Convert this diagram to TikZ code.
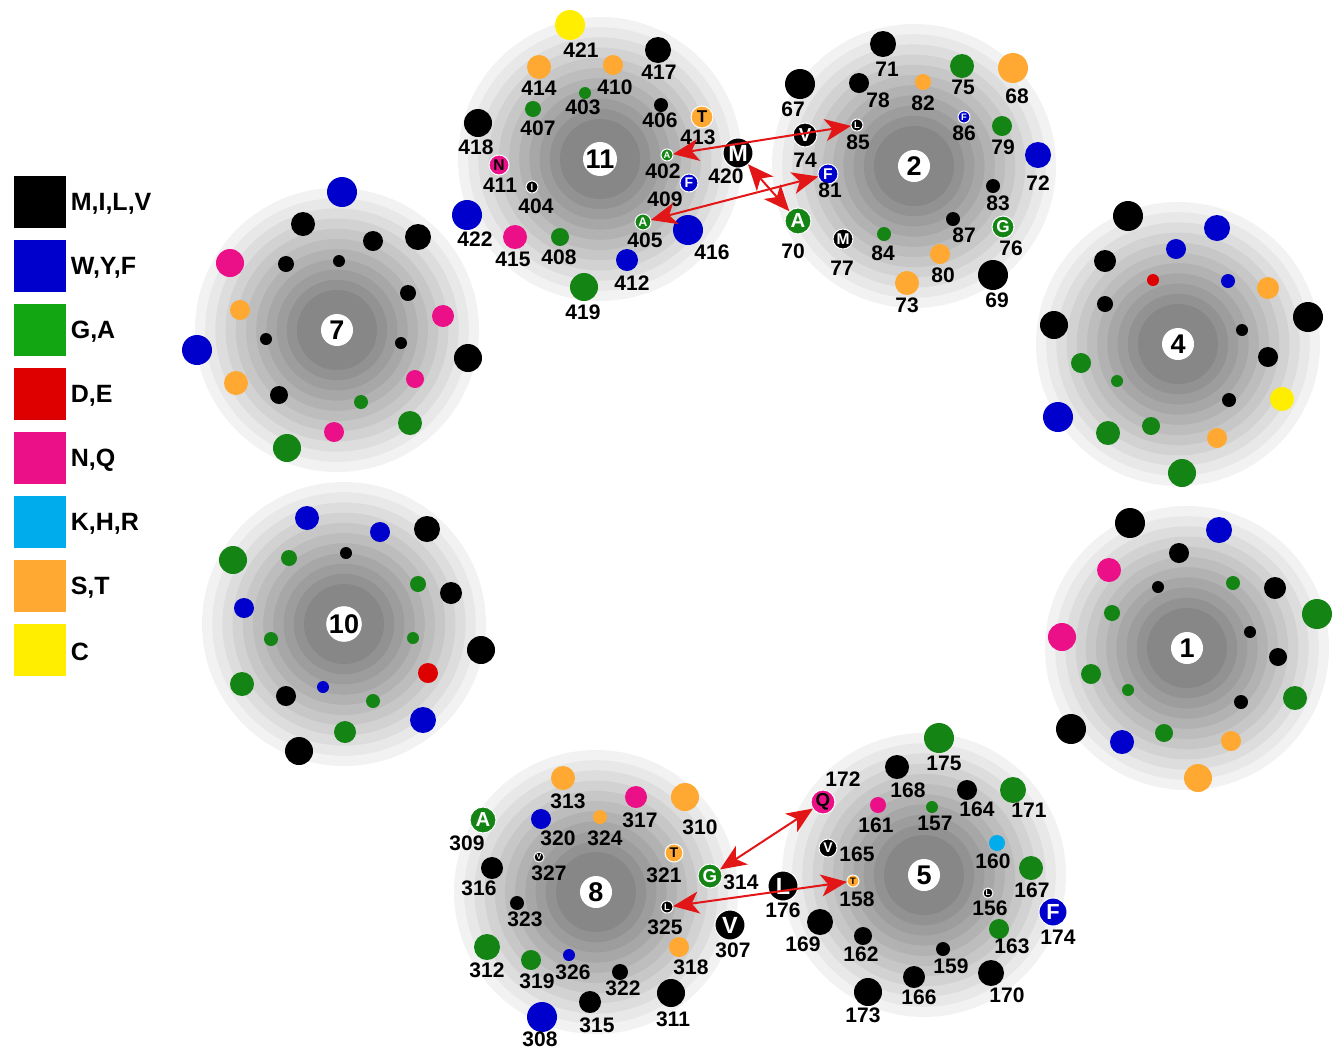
\documentclass[tikz,border=0pt]{standalone}
\usepackage{fontspec}
\setmainfont{Liberation Sans}
\usetikzlibrary{arrows.meta}

\definecolor{hyd}{RGB}{0,0,0}
\definecolor{aro}{RGB}{0,0,204}
\definecolor{gly}{RGB}{20,132,20}
\definecolor{glykey}{RGB}{18,166,18}
\definecolor{acid}{RGB}{222,0,0}
\definecolor{amide}{RGB}{236,16,136}
\definecolor{base}{RGB}{0,172,236}
\definecolor{hyx}{RGB}{255,168,50}
\definecolor{cys}{RGB}{255,238,0}
\definecolor{contactred}{RGB}{226,22,22}

\tikzset{
  dot/.style={circle, inner sep=0pt, outer sep=0pt},
  resnum/.style={font=\bfseries\fontsize{10.5}{10.5}\selectfont, inner sep=0pt},
  hub/.style={circle, fill=white, minimum size=16pt, inner sep=0pt,
    font=\bfseries\fontsize{13.5}{13.5}\selectfont},
  contact/.style={draw=contactred, line width=1pt,
    {Stealth[length=13pt,width=11pt,inset=3.5pt]}-{Stealth[length=13pt,width=11pt,inset=3.5pt]}},
  key/.style={minimum size=26pt, inner sep=0pt},
  keytext/.style={anchor=west, font=\bfseries\fontsize{12.5}{12.5}\selectfont, inner sep=0pt}
}

\begin{document}
\begin{tikzpicture}[x=0.5pt, y=-0.5pt]
  \useasboundingbox (0,0) rectangle (1334,1051);

  % shaded discs of the eight wheels
  \foreach \cx/\cy in {600/159, 914/166, 337/330, 1178/344, 344/624, 1187/648, 596/892, 924/875} {
    \foreach \k in {0,...,10} {
      \pgfmathsetmacro\shade{5+4.2*\k}
      \fill[black!\shade] (\cx,\cy) circle[radius={142-10.2*\k}];
    }
  }

  % wheels 11, 2, 8, 5: plain residues with numbers
  \foreach \x/\y/\r/\c/\n/\lx/\ly in {
      570/25/15/cys/421/581/50, 658/50/13/hyd/417/659/72, 539/67/12/hyx/414/539/88,
      613/65/10/hyx/410/615/87, 585/93/6/gly/403/583/107, 533/109/8/gly/407/538/128,
      661/105/7/hyd/406/660/120, 478/123/14/hyd/418/476/147, 688/230/15/aro/416/712/252,
      467/215/15/aro/422/475/239, 515/237/12/amide/415/513/259, 560/237/9/gly/408/559/257,
      627/260/11/aro/412/632/283, 584/287/14/gly/419/583/312,
      883/44/13/hyd/71/887/69, 800/84/15/hyd/67/793/109, 859/83/10/hyd/78/878/100,
      923/82/8/hyx/82/923/103, 962/66/12/gly/75/963/87, 1013/68/15/hyx/68/1017/96,
      1002/126/10/gly/79/1003/147, 1038/155/13/aro/72/1038/183, 993/186/7/hyd/83/998/203,
      953/219/7/hyd/87/964/235, 884/234/7/gly/84/883/253, 940/254/10/hyx/80/943/275,
      907/283/12/hyx/73/907/305, 993/275/15/hyd/69/997/300,
      563/778/12/hyx/313/568/801, 636/797/11/amide/317/640/820, 685/797/14/hyx/310/700/827,
      541/819/10/aro/320/558/838, 600/817/7/hyx/324/605/838, 492/868/11/hyd/316/479/888,
      517/903/7/hyd/323/525/919, 679/947/10/hyx/318/691/967, 487/947/13/gly/312/487/970,
      531/960/10/gly/319/537/981, 569/955/6/aro/326/573/972, 620/972/8/hyd/322/623/988,
      590/1002/11/hyd/315/597/1025, 671/993/14/hyd/311/673/1019, 542/1017/15/aro/308/540/1039,
      939/738/15/gly/175/944/763, 897/767/12/hyd/168/908/790, 878/805/8/amide/161/876/825,
      932/807/6/gly/157/935/823, 967/790/10/hyd/164/977/809, 1013/790/13/gly/171/1029/810,
      997/843/8/base/160/993/861, 1031/868/12/gly/167/1032/890, 820/922/13/hyd/169/803/944,
      999/929/10/gly/163/1012/946, 863/936/9/hyd/162/861/954, 943/949/7/hyd/159/951/966,
      914/977/11/hyd/166/919/997, 991/973/13/hyd/170/1007/995, 868/992/14/hyd/173/863/1015} {
    \node[dot, fill=\c, minimum size={\r*1pt}] (r\n) at (\x,\y) {};
    \node[resnum] (n\n) at (\lx,\ly) {\n};
  }

  % residues marked with their letter
  \foreach \x/\y/\r/\c/\n/\lx/\ly/\t/\tc in {
      702/117/11/hyx/413/698/137/T/black, 499/165/10/amide/411/500/185/N/black,
      532/187/6/hyd/404/536/206/I/white, 667/155/6/gly/402/663/171/A/white,
      689/183/9/aro/409/665/199/F/white, 643/222/8/gly/405/645/240/A/white,
      738/153/15/hyd/420/726/176/M/white,
      857/125/6/hyd/85/858/142/L/white, 964/117/6/aro/86/964/133/F/white,
      805/135/12/hyd/74/805/160/V/white, 828/174/10/aro/81/830/190/F/white,
      1003/227/11/gly/76/1011/248/G/white, 798/221/13/gly/70/793/251/A/white,
      843/239/10/hyd/77/842/268/M/white,
      483/820/13/gly/309/467/843/A/white, 674/853/9/hyx/321/664/875/T/black,
      539/857/5/hyd/327/549/873/V/white, 710/876/12/gly/314/741/882/G/white,
      667/907/6/hyd/325/665/927/L/white, 730/925/15/hyd/307/733/950/V/white,
      823/802/12/amide/172/843/779/Q/black, 828/848/9/hyd/165/857/854/V/white,
      853/881/6/hyx/158/857/899/T/black, 783/886/15/hyd/176/783/910/L/white,
      988/893/5/hyd/156/990/908/L/white, 1053/912/14/aro/174/1058/937/F/white} {
    \pgfmathsetmacro\fs{0.78*\r}
    \node[dot, fill=\c, draw=white, line width=0.5pt, minimum size={\r*1pt},
      text=\tc, font=\bfseries\fontsize{\fs}{\fs}\selectfont] (r\n) at (\x,\y) {\t};
    \node[resnum] (n\n) at (\lx,\ly) {\n};
  }

  % wheels 7, 10, 4, 1: residues without numbers
  \foreach \x/\y/\r/\c [count=\i] in {
      342/192/15/aro, 303/224/12/hyd, 373/241/10/hyd, 418/237/13/hyd, 230/263/14/amide,
      286/264/8/hyd, 339/261/6/hyd, 408/293/8/hyd, 240/310/10/hyx, 443/316/11/amide,
      197/350/15/aro, 266/339/6/hyd, 401/343/6/hyd, 468/358/14/hyd, 236/383/12/hyx,
      415/379/9/amide, 279/395/9/hyd, 361/402/7/gly, 410/423/12/gly, 334/432/10/amide,
      287/448/14/gly,
      307/518/12/aro, 380/532/10/aro, 427/529/13/hyd, 233/560/14/gly, 289/558/8/gly,
      346/553/6/hyd, 418/584/8/gly, 451/593/11/hyd, 244/608/10/aro, 271/639/7/gly,
      413/638/6/gly, 481/650/14/hyd, 428/673/10/acid, 242/684/12/gly, 286/696/10/hyd,
      323/687/6/aro, 373/701/7/gly, 423/720/13/aro, 345/732/11/gly, 299/751/14/hyd,
      1128/216/15/hyd, 1217/228/13/aro, 1176/249/10/aro, 1105/261/11/hyd, 1153/280/6/acid,
      1228/281/7/aro, 1268/288/11/hyx, 1105/304/8/hyd, 1308/317/15/hyd, 1054/325/14/hyd,
      1242/330/6/hyd, 1268/357/10/hyd, 1081/363/10/gly, 1117/381/6/gly, 1229/400/7/hyd,
      1282/399/12/cys, 1058/417/15/aro, 1108/433/12/gly, 1151/426/9/gly, 1217/438/10/hyx,
      1182/473/14/gly,
      1130/523/15/hyd, 1219/530/13/aro, 1179/553/10/hyd, 1109/570/12/amide, 1158/587/6/hyd,
      1233/583/7/gly, 1275/588/11/hyd, 1317/614/15/gly, 1112/613/8/gly, 1062/637/14/amide,
      1250/632/6/hyd, 1278/657/9/hyd, 1091/674/10/gly, 1128/690/6/gly, 1295/698/12/gly,
      1241/702/7/hyd, 1071/729/15/hyd, 1164/733/9/gly, 1122/742/12/aro, 1231/741/10/hyx,
      1198/778/14/hyx} {
    \node[dot, fill=\c, minimum size={\r*1pt}] (s\i) at (\x,\y) {};
  }

  % wheel numbers
  \foreach \cx/\cy/\w in {600/159/11, 914/166/2, 337/330/7, 1178/344/4,
      344/624/10, 1187/648/1, 596/892/8, 924/875/5} {
    \node[hub] (w\w) at (\cx,\cy) {\w};
  }

  % contacts between helices
  \draw[contact] (r402) -- (r85);
  \draw[contact] (r405) -- (r81);
  \draw[contact] (r420) -- (r70);
  \draw[contact] (r314) -- (r172);
  \draw[contact] (r325) -- (r158);

  % colour key
  \foreach \c/\t [count=\i from 0] in {hyd/{M,I,L,V}, aro/{W,Y,F}, glykey/{G,A},
      acid/{D,E}, amide/{N,Q}, base/{K,H,R}, hyx/{S,T}, cys/C} {
    \node[key, fill=\c] (key\i) at (40,{202+64*\i}) {};
    \node[keytext] (keytext\i) at ([xshift=2pt,yshift=-1pt]key\i.east) {\t};
  }
\end{tikzpicture}
\end{document}
